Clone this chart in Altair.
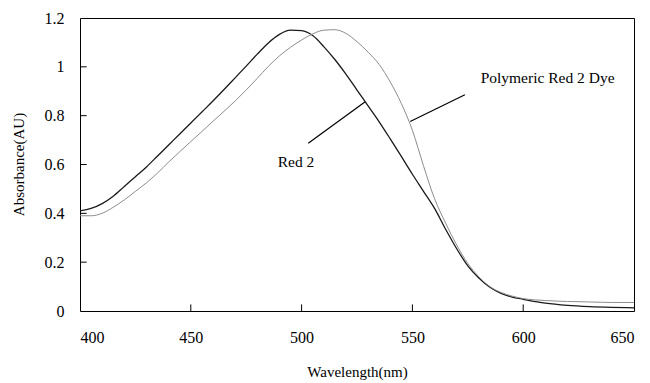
import altair as alt
import pandas as pd

# Wavelength grid (nm)
wl = [400, 405, 410, 415, 420, 425, 430, 435, 440, 445, 450, 455, 460, 465, 470,
      475, 480, 485, 490, 495, 500, 505, 510, 515, 520, 525, 530, 535, 540, 545,
      550, 555, 560, 565, 570, 575, 580, 585, 590, 595, 600, 610, 620, 630, 640, 650]

red2 = [0.41, 0.42, 0.44, 0.47, 0.51, 0.55, 0.59, 0.635, 0.68, 0.725, 0.77, 0.815,
        0.86, 0.907, 0.955, 1.003, 1.052, 1.098, 1.133, 1.15, 1.148, 1.128, 1.083, 1.03,
        0.97, 0.905, 0.84, 0.775, 0.705, 0.633, 0.56, 0.49, 0.42, 0.335, 0.255,
        0.185, 0.135, 0.097, 0.072, 0.057, 0.048, 0.032, 0.023, 0.018, 0.015, 0.013]

poly = [0.39, 0.39, 0.40, 0.425, 0.455, 0.49, 0.525, 0.565, 0.61, 0.652, 0.694,
        0.735, 0.777, 0.818, 0.86, 0.905, 0.953, 1.002, 1.045, 1.08, 1.11, 1.135,
        1.15, 1.152, 1.137, 1.103, 1.06, 1.01, 0.938, 0.85, 0.74, 0.595, 0.46, 0.36,
        0.27, 0.195, 0.14, 0.10, 0.076, 0.061, 0.051, 0.043, 0.039, 0.037, 0.035, 0.035]

x_ticks = [450, 500, 550, 600]
y_ticks = [0.2, 0.4, 0.6, 0.8, 1.0]

labels = ["Polymeric Red 2 Dye", "Red 2"]
label_x = [611, 497.5]
label_y = [0.955, 0.61]
leader_x1 = [549, 503]
leader_y1 = [0.776, 0.687]
leader_x2 = [573.7, 528.7]
leader_y2 = [0.886, 0.857]

FONT = "Liberation Serif"

df = pd.DataFrame({"wl": wl + wl,
                   "abs": red2 + poly,
                   "series": ["Red 2"] * len(wl) + ["Polymeric Red 2 Dye"] * len(wl)})

xscale = alt.Scale(domain=[400, 650], nice=False, zero=False)
yscale = alt.Scale(domain=[0, 1.2], nice=False)

xaxis = alt.Axis(values=[400, 450, 500, 550, 600, 650], ticks=False, domain=False, grid=False,
                 labelFont=FONT, labelFontSize=16, labelColor="black", labelPadding=18,
                 title="Wavelength(nm)", titleFont=FONT, titleFontSize=15,
                 titleFontWeight="normal", titleColor="black", titleY=60,
                 titleBaseline="middle")
yaxis = alt.Axis(values=[0, 0.2, 0.4, 0.6, 0.8, 1.0, 1.2], ticks=False, domain=False, grid=False,
                 labelFont=FONT, labelFontSize=16, labelColor="black", labelPadding=16,
                 labelExpr="datum.value == 0 ? '0' : datum.value == 1 ? '1' : format(datum.value, '.1f')",
                 title="Absorbance(AU)", titleFont=FONT, titleFontSize=15,
                 titleFontWeight="normal", titleColor="black", titleX=-62, titleY=146,
                 titleBaseline="middle", titleAngle=-90)

lines = alt.Chart(df).mark_line(interpolate="monotone").encode(
    x=alt.X("wl:Q", scale=xscale, axis=xaxis),
    y=alt.Y("abs:Q", scale=yscale, axis=yaxis),
    color=alt.Color("series:N", scale=alt.Scale(domain=["Red 2", "Polymeric Red 2 Dye"],
                                                 range=["#1a1a1a", "#8c8c8c"]), legend=None),
    strokeWidth=alt.StrokeWidth("series:N", scale=alt.Scale(domain=["Red 2", "Polymeric Red 2 Dye"],
                                                             range=[1.3, 1.0]), legend=None),
)

xt = pd.DataFrame({"x": x_ticks, "y0": [0] * len(x_ticks), "y1": [0.027] * len(x_ticks)})
xtick_marks = alt.Chart(xt).mark_rule(color="black", strokeWidth=1).encode(
    x=alt.X("x:Q", scale=xscale), y=alt.Y("y0:Q", scale=yscale), y2="y1:Q")

yt = pd.DataFrame({"y": y_ticks, "x0": [400] * len(y_ticks), "x1": [403] * len(y_ticks)})
ytick_marks = alt.Chart(yt).mark_rule(color="black", strokeWidth=1).encode(
    y=alt.Y("y:Q", scale=yscale), x=alt.X("x0:Q", scale=xscale), x2="x1:Q")

ld = pd.DataFrame({"x1": leader_x1, "y1": leader_y1, "x2": leader_x2, "y2": leader_y2})
leaders = alt.Chart(ld).mark_rule(color="black", strokeWidth=1.2).encode(
    x=alt.X("x1:Q", scale=xscale), y=alt.Y("y1:Q", scale=yscale), x2="x2:Q", y2="y2:Q")

td = pd.DataFrame({"label": labels, "x": label_x, "y": label_y})
texts = alt.Chart(td).mark_text(font=FONT, fontSize=15.5, color="black",
                                align="center", baseline="middle").encode(
    x=alt.X("x:Q", scale=xscale), y=alt.Y("y:Q", scale=yscale), text="label:N")

chart = alt.layer(lines, xtick_marks, ytick_marks, leaders, texts).properties(
    width=554, height=293,
    autosize=alt.AutoSizeParams(type="none"),
    padding={"left": 80, "top": 18, "right": 16, "bottom": 72},
    background="white",
).configure(font=FONT).configure_view(stroke="black", strokeWidth=1)

chart.save("out.html", embed_options={"renderer": "svg", "actions": False})
